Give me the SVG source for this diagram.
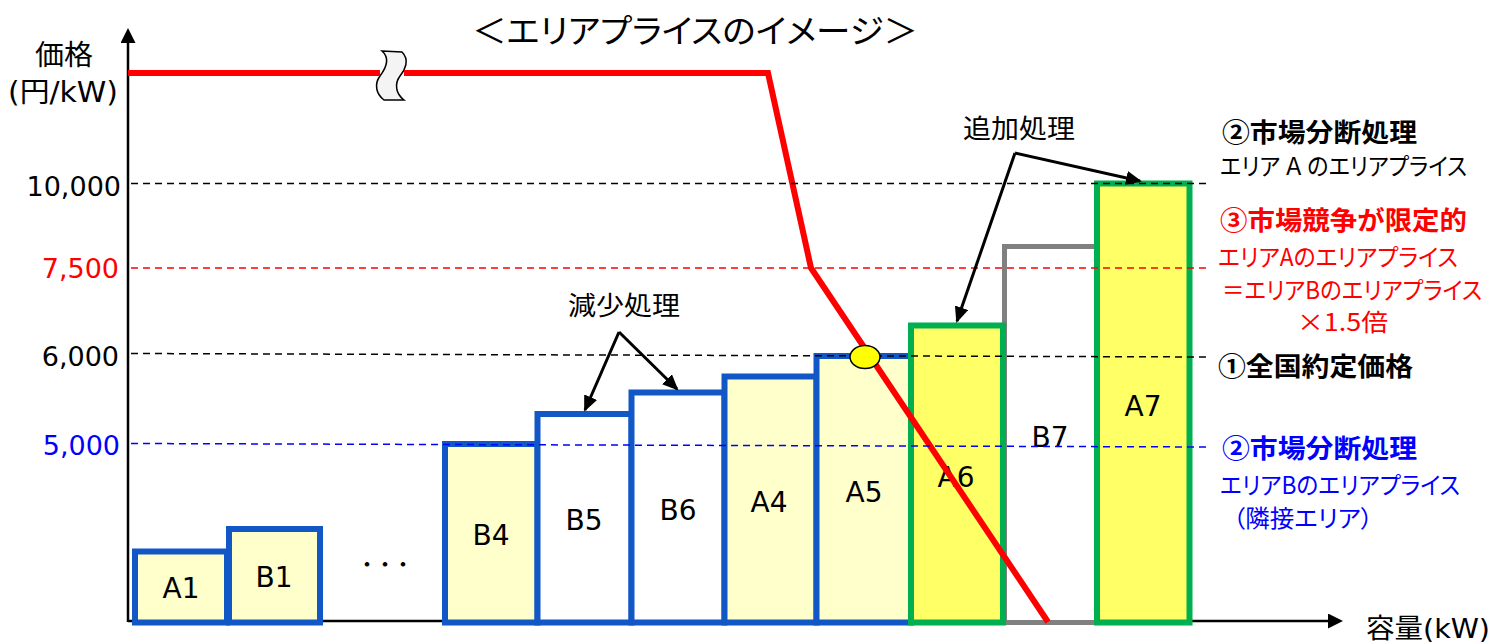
<svg xmlns="http://www.w3.org/2000/svg" width="1493" height="642" viewBox="0 0 1493 642">
<style>
.t{font-family:"DejaVu Sans","Noto Sans CJK JP",sans-serif}
.j{font-family:"Noto Sans CJK JP",sans-serif;font-feature-settings:"palt"}
.b{font-weight:bold}
.bl{fill:#FFFFCC;stroke:#1257C6;stroke-width:6}
.bw{fill:#FFFFFF;stroke:#1257C6;stroke-width:6}
.gr{fill:#FFFF66;stroke:#00B050;stroke-width:6}
.lbl{font-size:28px;text-anchor:middle;fill:#000}
.tick{font-size:27px;text-anchor:end}
.dash{stroke-width:1.5;stroke-dasharray:7 5;fill:none}
.call{stroke:#000;stroke-width:3;fill:none;marker-end:url(#ch)}
</style>
<defs>
<marker id="ah" markerUnits="userSpaceOnUse" markerWidth="15" markerHeight="15" refX="0" refY="7.5" orient="auto"><path d="M0,0 L15,7.5 L0,15 Z" fill="#000"/></marker>
<marker id="ch" markerUnits="userSpaceOnUse" markerWidth="17" markerHeight="14" refX="14" refY="7" orient="auto"><path d="M0,0 L16,7 L0,14 Z" fill="#000"/></marker>
</defs>
<rect width="1493" height="642" fill="#FFFFFF"/>

<text class="j" x="472" y="43" font-size="33" textLength="446" lengthAdjust="spacingAndGlyphs">＜エリアプライスのイメージ＞</text>

<g id="axes">
<line x1="128" y1="622" x2="128" y2="43" stroke="#000" stroke-width="2.5" marker-end="url(#ah)"/>
<line x1="128" y1="621" x2="1328" y2="621" stroke="#000" stroke-width="2.5" marker-end="url(#ah)"/>
<text class="t" x="35" y="65" font-size="28" textLength="58" lengthAdjust="spacingAndGlyphs">価格</text>
<text class="t" x="8" y="102" font-size="28" textLength="110" lengthAdjust="spacingAndGlyphs">(円/kW)</text>
<text class="t" x="1366" y="638" font-size="27" textLength="124" lengthAdjust="spacingAndGlyphs">容量(kW)</text>
<text class="t tick" x="121" y="196" fill="#000">10,000</text>
<text class="t tick" x="119" y="278" fill="#FF0000">7,500</text>
<text class="t tick" x="119" y="366" fill="#000">6,000</text>
<text class="t tick" x="120" y="455" fill="#0000FF">5,000</text>
</g>

<g id="A1"><rect class="bl" x="135" y="551.5" width="92" height="71"/><text class="t lbl" x="181" y="598">A1</text></g>
<g id="B1"><rect class="bl" x="229" y="529" width="91" height="93.5"/><text class="t lbl" x="274" y="587">B1</text></g>
<g id="ellipsis"><text x="385" y="571" font-family="Noto Sans CJK JP, sans-serif" font-size="18" font-weight="bold" text-anchor="middle">・・・</text></g>
<g id="B4"><rect class="bl" x="445" y="444" width="92.5" height="178.5"/><text class="t lbl" x="491" y="545">B4</text></g>
<g id="B5"><rect class="bw" x="537.5" y="414" width="94" height="208.5"/><text class="t lbl" x="584" y="530">B5</text></g>
<g id="B6"><rect class="bw" x="631.5" y="392.5" width="93" height="230"/><text class="t lbl" x="678" y="520">B6</text></g>
<g id="A4"><rect class="bl" x="724.5" y="376.5" width="92" height="246"/><text class="t lbl" x="769" y="512">A4</text></g>
<g id="A5"><rect class="bl" x="816.5" y="356" width="94.5" height="266.5"/><text class="t lbl" x="864" y="502">A5</text></g>
<g id="B7"><rect x="1004.5" y="246.5" width="92.5" height="376" fill="#FFFFFF" stroke="#808080" stroke-width="5"/><text class="t lbl" x="1050" y="447">B7</text></g>
<g id="A6"><rect class="gr" x="911" y="325.5" width="92" height="297"/><text class="t lbl" x="956" y="487">A6</text></g>
<g id="A7"><rect class="gr" x="1097" y="183.5" width="92.5" height="439"/><text class="t lbl" x="1143" y="416">A7</text></g>

<g id="break"><path d="M382,51 L402,52 C410,60 405,70 400,76 C394,84 396,94 404,100 L384,100 C376,94 374,84 380,76 C386,68 390,58 382,51 Z" fill="#F4F4F4" stroke="#000" stroke-width="1.5"/></g>

<g id="connectors">
<polyline points="128,73 380,73" fill="none" stroke="#FF0000" stroke-width="6"/>
<polyline points="404,73 768,73 811,268 1048,622" fill="none" stroke="#FF0000" stroke-width="6"/>
<line class="dash" x1="131" y1="183.5" x2="1210" y2="183.5" stroke="#000"/>
<line class="dash" x1="131" y1="268" x2="1210" y2="268" stroke="#FF0000"/>
<line class="dash" x1="131" y1="353.5" x2="1210" y2="357" stroke="#000"/>
<line class="dash" x1="131" y1="443.5" x2="1210" y2="447" stroke="#0000FF"/>
<line class="call" x1="619" y1="332" x2="585" y2="410"/>
<line class="call" x1="619" y1="332" x2="677" y2="389"/>
<line class="call" x1="1015" y1="153" x2="957" y2="321"/>
<line class="call" x1="1015" y1="153" x2="1140" y2="181"/>
</g>

<g id="equilibrium"><ellipse cx="865" cy="357" rx="15" ry="11.5" fill="#FFFF00" stroke="#000" stroke-width="1.5"/></g>

<g id="callout-labels">
<text class="j" x="568" y="315" font-size="26" textLength="112" lengthAdjust="spacingAndGlyphs">減少処理</text>
<text class="j" x="963" y="138" font-size="26" textLength="112" lengthAdjust="spacingAndGlyphs">追加処理</text>
</g>

<g id="legend-a">
<text class="j b" x="1222" y="142" font-size="26" textLength="195" lengthAdjust="spacingAndGlyphs">②市場分断処理</text>
<text class="j" x="1220" y="175" font-size="24" textLength="247" lengthAdjust="spacingAndGlyphs">エリア Ａ のエリアプライス</text>
</g>
<g id="legend-limited" fill="#FF0000">
<text class="j b" x="1220" y="230" font-size="26" textLength="247" lengthAdjust="spacingAndGlyphs">③市場競争が限定的</text>
<text class="j" x="1218" y="266" font-size="24" textLength="240" lengthAdjust="spacingAndGlyphs">エリアAのエリアプライス</text>
<text class="j" x="1222" y="299" font-size="24" textLength="260" lengthAdjust="spacingAndGlyphs">＝エリアBのエリアプライス</text>
<text class="j" x="1297" y="331" font-size="24" textLength="91" lengthAdjust="spacingAndGlyphs">×1.5倍</text>
</g>
<g id="legend-national">
<text class="j b" x="1218" y="376" font-size="26" textLength="195" lengthAdjust="spacingAndGlyphs">①全国約定価格</text>
</g>
<g id="legend-b" fill="#0000FF">
<text class="j b" x="1222" y="458" font-size="26" textLength="195" lengthAdjust="spacingAndGlyphs">②市場分断処理</text>
<text class="j" x="1220" y="494" font-size="24" textLength="240" lengthAdjust="spacingAndGlyphs">エリアBのエリアプライス</text>
<text class="j" x="1233" y="527" font-size="24" textLength="140" lengthAdjust="spacingAndGlyphs">（隣接エリア）</text>
</g>
</svg>
